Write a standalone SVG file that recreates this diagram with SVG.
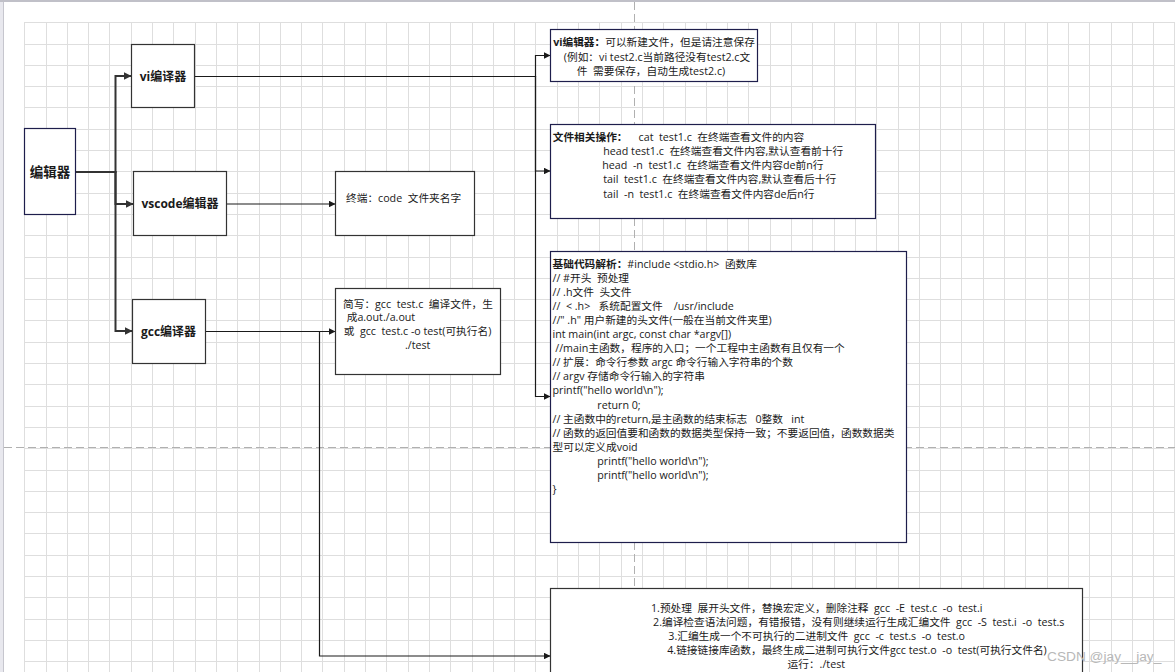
<svg xmlns="http://www.w3.org/2000/svg" width="1175" height="672" viewBox="0 0 1175 672" xml:space="preserve">
<defs>
<style>
.grid{fill:none;stroke:#dedede;stroke-width:1}
.dash{fill:none;stroke:#b0b0b0;stroke-width:1;stroke-dasharray:8 4}
.box{fill:#fff;stroke:#333;stroke-width:1.2}
.nv{stroke:#1e1e4c}
.thick{fill:none;stroke:#333;stroke-width:2}
.thin{fill:none;stroke:#1a1a1a;stroke-width:1.2}
text{font-family:"Open Sans","Noto Sans CJK SC",sans-serif;font-size:10.7px;fill:#1a1a1a;dominant-baseline:central;white-space:pre}
.b{font-weight:bold}
.lbl{font-size:12px;font-weight:bold;text-anchor:middle}
.mid{text-anchor:middle}
.wm{font-family:"Liberation Sans",sans-serif;font-size:13.7px;fill:#b8b8b8}
</style>
<marker id="at" viewBox="0 0 8 8" refX="8" refY="4" markerWidth="8" markerHeight="8" markerUnits="userSpaceOnUse" orient="auto"><path d="M0 0L8 4L0 8z" fill="#333"/></marker>
<marker id="an" viewBox="0 0 8 8" refX="8" refY="4" markerWidth="6.5" markerHeight="6.5" markerUnits="userSpaceOnUse" orient="auto"><path d="M0 0L8 4L0 8z" fill="#1a1a1a"/></marker>
</defs>
<rect x="0" y="0" width="1175" height="672" fill="#fff"/>
<rect x="0" y="0" width="3" height="672" fill="#e8e8ee"/>
<path d="M3.5 0V672" stroke="#c6c6ce" stroke-width="1"/>
<path d="M0 1H1175" stroke="#c0c0c8" stroke-width="2"/>
<g id="grid">
<path class="grid" d="M24.5 22V672M46.5 22V672M67.5 22V672M88.5 22V672M109.5 22V672M131.5 22V672M152.5 22V672M173.5 22V672M195.5 22V672M216.5 22V672M237.5 22V672M259.5 22V672M280.5 22V672M301.5 22V672M322.5 22V672M344.5 22V672M365.5 22V672M386.5 22V672M408.5 22V672M429.5 22V672M450.5 22V672M472.5 22V672M493.5 22V672M514.5 22V672M535.5 22V672M557.5 22V672M578.5 22V672M599.5 22V672M621.5 22V672M642.5 22V672M663.5 22V672M685.5 22V672M706.5 22V672M727.5 22V672M748.5 22V672M770.5 22V672M791.5 22V672M812.5 22V672M834.5 22V672M855.5 22V672M876.5 22V672M898.5 22V672M919.5 22V672M940.5 22V672M961.5 22V672M983.5 22V672M1004.5 22V672M1025.5 22V672M1047.5 22V672M1068.5 22V672M1089.5 22V672M1111.5 22V672M1132.5 22V672M1153.5 22V672M1174.5 22V672M24 22.5H1175M24 44.5H1175M24 65.5H1175M24 86.5H1175M24 107.5H1175M24 129.5H1175M24 150.5H1175M24 171.5H1175M24 193.5H1175M24 214.5H1175M24 235.5H1175M24 257.5H1175M24 278.5H1175M24 299.5H1175M24 320.5H1175M24 342.5H1175M24 363.5H1175M24 384.5H1175M24 406.5H1175M24 427.5H1175M24 448.5H1175M24 470.5H1175M24 491.5H1175M24 512.5H1175M24 533.5H1175M24 555.5H1175M24 576.5H1175M24 597.5H1175M24 619.5H1175M24 640.5H1175M24 661.5H1175"/>
<path class="dash" d="M4 447.5H1175M634.5 2V672"/>
</g>
<g id="connectors">
<path class="thick" d="M76 172H115.5V76H131.5" marker-end="url(#at)"/>
<path class="thick" d="M76 172H115.5V204H133.5" marker-end="url(#at)"/>
<path class="thick" d="M76 172H115.5V331H132.5" marker-end="url(#at)"/>
<path class="thin" d="M194.5 76.5H535.5V55.5H550.5" marker-end="url(#an)"/>
<path class="thin" d="M194.5 76.5H535.5V171H550.5" marker-end="url(#an)"/>
<path class="thin" d="M194.5 76.5H535.5V396.5H550.5" marker-end="url(#an)"/>
<path class="thin" d="M226.5 204H335.5" marker-end="url(#an)"/>
<path class="thin" d="M205.5 331.5H335.5" marker-end="url(#an)"/>
<path class="thin" d="M205.5 331.5H319.5V656H550.5" marker-end="url(#an)"/>
</g>
<g id="n-editor">
<rect class="box nv" x="24.5" y="128.5" width="51" height="86"/>
<text class="lbl" x="50" y="172" style="font-size:13.5px">编辑器</text>
</g>
<g id="n-vi">
<rect class="box" x="131.5" y="44.5" width="63" height="63"/>
<text class="lbl" x="163" y="76">vi编译器</text>
</g>
<g id="n-vscode">
<rect class="box" x="133.5" y="171.5" width="93" height="64"/>
<text class="lbl" x="180" y="203.5">vscode编辑器</text>
</g>
<g id="n-gcc">
<rect class="box" x="132.5" y="299.5" width="73" height="64"/>
<text class="lbl" x="168.5" y="331.5">gcc编译器</text>
</g>
<g id="n-terminal">
<rect class="box" x="335.5" y="171.5" width="139" height="64"/>
<text x="346" y="197.5">终端：code  文件夹名字</text>
</g>
<g id="n-short">
<rect class="box" x="335.5" y="288.5" width="165" height="86"/>
<text class="mid" x="418" y="303.5">简写：gcc  test.c  编译文件，生</text>
<text x="346.7" y="317.3">成a.out./a.out</text>
<text class="mid" x="417.5" y="331.3">或  gcc  test.c -o test(可执行名)</text>
<text class="mid" x="417.7" y="345.3">./test</text>
</g>
<g id="n-vinote">
<rect class="box nv" x="550.5" y="29.5" width="207" height="52"/>
<text class="mid" x="654" y="42"><tspan class="b">vi编辑器：</tspan>可以新建文件，但是请注意保存</text>
<text class="mid" x="657" y="56.5">(例如：vi test2.c当前路径没有test2.c文</text>
<text class="mid" x="651" y="70.7">件  需要保存，自动生成test2.c)</text>
</g>
<g id="n-fileops">
<rect class="box nv" x="550.5" y="124.5" width="325" height="94"/>
<text x="552.7" y="137"><tspan class="b">文件相关操作：</tspan>    cat  test1.c  在终端查看文件的内容</text>
<text x="603.3" y="151.2">head test1.c  在终端查看文件内容,默认查看前十行</text>
<text x="602.3" y="165.3">head  -n  test1.c  在终端查看文件内容de前n行</text>
<text x="603.3" y="179.4">tail  test1.c  在终端查看文件内容,默认查看后十行</text>
<text x="603.3" y="193.5">tail  -n  test1.c  在终端查看文件内容de后n行</text>
</g>
<g id="n-code">
<rect class="box nv" x="550.5" y="251.5" width="356" height="291"/>
<text x="552.5" y="263.5"><tspan class="b">基础代码解析：</tspan>#include &lt;stdio.h&gt;  函数库</text>
<text x="552.5" y="277.6">// #开头  预处理</text>
<text x="552.5" y="291.7">// .h文件  头文件</text>
<text x="552.5" y="305.8">//  &lt; .h&gt;   系统配置文件    /usr/include</text>
<text x="552.5" y="319.9">//" .h" 用户新建的头文件(一般在当前文件夹里)</text>
<text x="552.5" y="334">int main(int argc, const char *argv[])</text>
<text x="552.5" y="348.1"> //main主函数，程序的入口；一个工程中主函数有且仅有一个</text>
<text x="552.5" y="362.2">// 扩展：命令行参数 argc 命令行输入字符串的个数</text>
<text x="552.5" y="376.3">// argv 存储命令行输入的字符串</text>
<text x="552.5" y="390.4">printf("hello world\n");</text>
<text x="597.3" y="404.5">return 0;</text>
<text x="552.5" y="418.6">// 主函数中的return,是主函数的结束标志   0整数   int</text>
<text x="552.5" y="432.7">// 函数的返回值要和函数的数据类型保持一致；不要返回值，函数数据类</text>
<text x="552.5" y="446.8">型可以定义成void</text>
<text x="597.3" y="460.9">printf("hello world\n");</text>
<text x="597.3" y="475">printf("hello world\n");</text>
<text x="552.5" y="489.1">}</text>
</g>
<g id="n-compile">
<rect class="box" x="550.5" y="588.5" width="532" height="100"/>
<text class="mid" x="816.7" y="608.3">1.预处理  展开头文件，替换宏定义，删除注释  gcc  -E  test.c  -o  test.i</text>
<text class="mid" x="858.7" y="622">2.编译检查语法问题，有错报错，没有则继续运行生成汇编文件  gcc  -S  test.i  -o  test.s</text>
<text class="mid" x="816.7" y="636">3.汇编生成一个不可执行的二进制文件  gcc  -c  test.s  -o  test.o</text>
<text class="mid" x="857" y="650">4.链接链接库函数，最终生成二进制可执行文件gcc test.o  -o  test(可执行文件名)</text>
<text class="mid" x="816.3" y="664">运行：./test</text>
</g>
<text class="wm" x="1047" y="656">CSDN @jay__jay_</text>
</svg>
